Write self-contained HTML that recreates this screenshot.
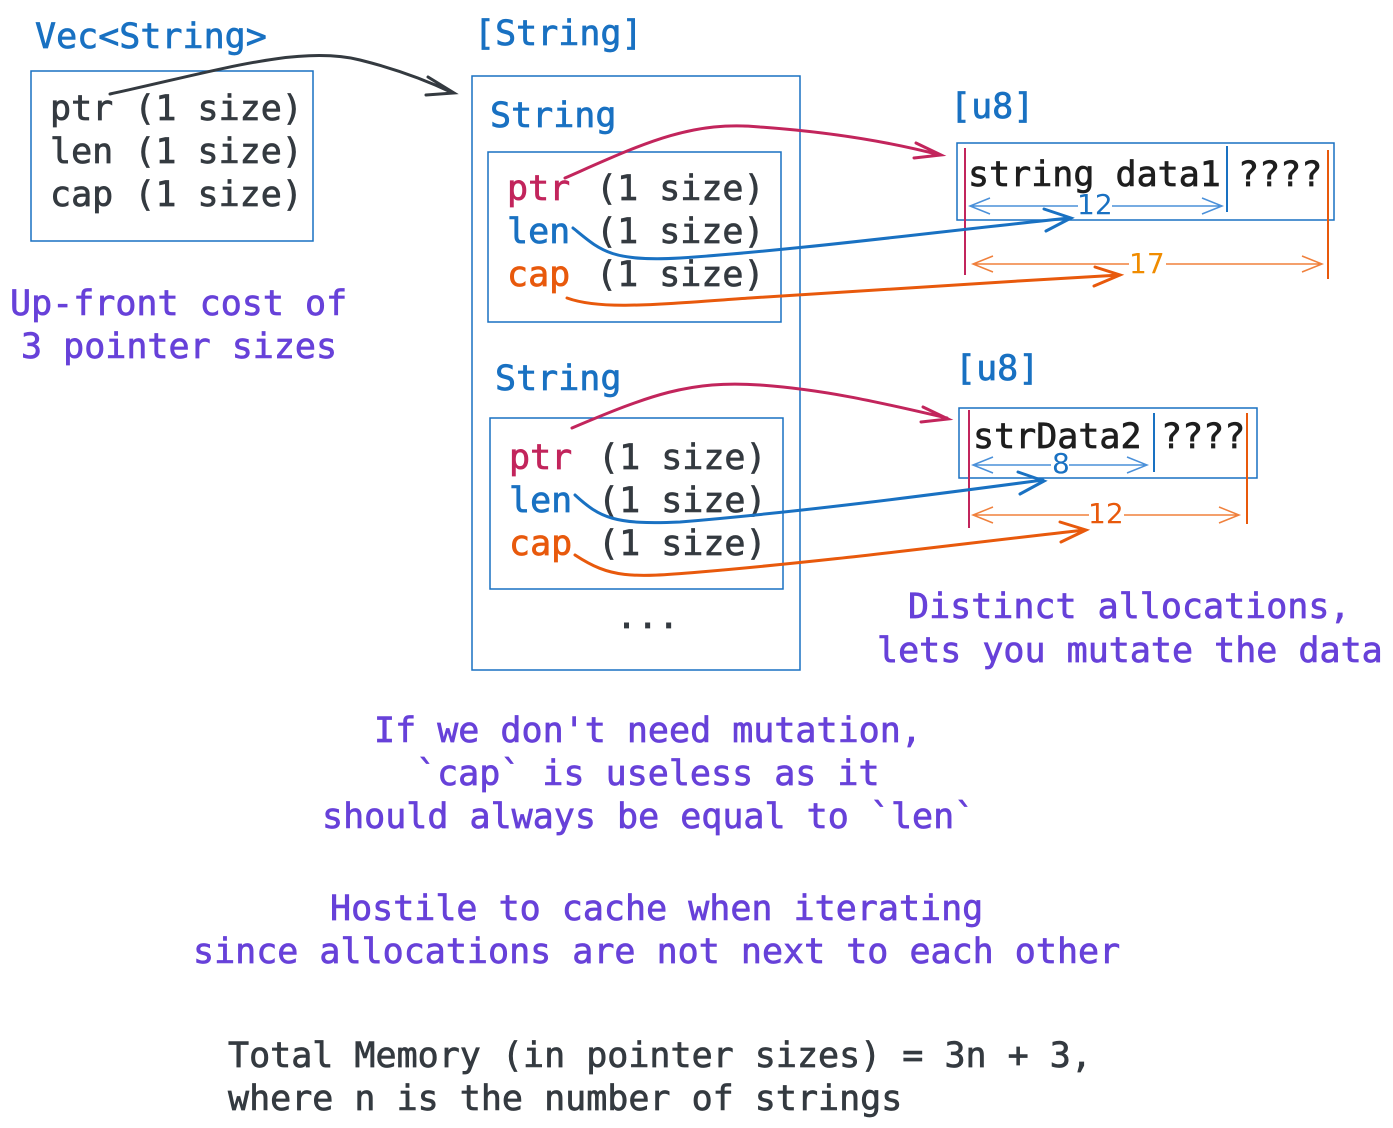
<!DOCTYPE html>
<html><head><meta charset="utf-8"><style>
html,body{margin:0;padding:0;background:#fff}
svg{display:block}
text{font-family:"DejaVu Sans Mono","Liberation Mono",monospace;font-size:35px;stroke-width:0.7px}
.d{fill:#343a40;stroke:#343a40}.b{fill:#1971c2;stroke:#1971c2}.p{fill:#6741d9;stroke:#6741d9}.r{fill:#c2255c;stroke:#c2255c}.o{fill:#e8590c;stroke:#e8590c}.k{fill:#1e1e1e;stroke:#1e1e1e}
</style></head><body>
<svg width="1393" height="1128" viewBox="0 0 1393 1128" xmlns="http://www.w3.org/2000/svg">
<g fill="none" stroke="#1971c2" stroke-width="1.5">
<rect x="31" y="71" width="282" height="170"/>
<rect x="472" y="76" width="328" height="594"/>
<rect x="488" y="152" width="293" height="170"/>
<rect x="490" y="418" width="293" height="171"/>
<rect x="957" y="143" width="377" height="77"/>
<rect x="959" y="408" width="298" height="70"/>
<line x1="1227" y1="146" x2="1227" y2="212" stroke-width="2"/>
<line x1="1154" y1="413" x2="1154" y2="472" stroke-width="2"/>
</g>
<text x="35" y="48" class="b">Vec&lt;String&gt;</text>
<text x="50" y="120" class="d">ptr (1 size)</text>
<text x="50" y="163" class="d">len (1 size)</text>
<text x="50" y="206" class="d">cap (1 size)</text>
<text x="474" y="45" class="b">[String]</text>
<text x="490" y="127" class="b">String</text>
<text x="507" y="200" class="r">ptr</text><text x="596" y="200" class="d">(1 size)</text>
<text x="507" y="243" class="b">len</text><text x="596" y="243" class="d">(1 size)</text>
<text x="507" y="286" class="o">cap</text><text x="596" y="286" class="d">(1 size)</text>
<text x="495" y="390" class="b">String</text>
<text x="509" y="469" class="r">ptr</text><text x="598" y="469" class="d">(1 size)</text>
<text x="509" y="512" class="b">len</text><text x="598" y="512" class="d">(1 size)</text>
<text x="509" y="555" class="o">cap</text><text x="598" y="555" class="d">(1 size)</text>
<text x="616" y="628" class="d">...</text>
<text x="950" y="118" class="b">[u8]</text>
<text x="968" y="186" class="k">string data1</text>
<text x="1238" y="186" class="k">????</text>
<text x="955" y="380" class="b">[u8]</text>
<text x="973" y="448" class="k">strData2</text>
<text x="1161" y="448" class="k">????</text>
<text x="10" y="315" class="p">Up-front cost of</text>
<text x="21" y="358" class="p">3 pointer sizes</text>
<text x="908" y="618" class="p">Distinct allocations,</text>
<text x="877" y="662" class="p">lets you mutate the data</text>
<text x="374" y="742" class="p">If we don't need mutation,</text>
<text x="416" y="785" class="p">`cap` is useless as it</text>
<text x="322" y="828" class="p">should always be equal to `len`</text>
<text x="330" y="920" class="p">Hostile to cache when iterating</text>
<text x="193" y="963" class="p">since allocations are not next to each other</text>
<text x="228" y="1067" class="d">Total Memory (in pointer sizes) = 3n + 3,</text>
<text x="228" y="1110" class="d">where n is the number of strings</text>
<g fill="none" stroke-width="2">
<line x1="965" y1="148" x2="965" y2="275" stroke="#c2255c"/>
<line x1="1328" y1="150" x2="1328" y2="279" stroke="#e8590c"/>
<line x1="969" y1="410" x2="969" y2="528" stroke="#c2255c"/>
<line x1="1247" y1="413" x2="1247" y2="524" stroke="#e8590c"/>
</g>
<g fill="none" stroke="#4a90d9" stroke-width="1.5">
<path d="M970 206H1078M1112 206H1222M990 198l-20 8 20 8M1202 198l20 8-20 8"/>
<path d="M973 465H1051M1069 465H1147M993 457l-20 8 20 8M1127 457l20 8-20 8"/>
</g>
<g fill="none" stroke="#f0803c" stroke-width="1.5">
<path d="M973 264H1129M1166 264H1322M993 256l-20 8 20 8M1302 256l20 8-20 8"/>
<path d="M973 515H1089M1124 515H1239M993 507l-20 8 20 8M1219 507l20 8-20 8"/>
</g>
<text x="1077" y="214" style="font-size:28px;font-family:'DejaVu Sans',sans-serif;stroke-width:0" class="b">12</text>
<text x="1052" y="473" style="font-size:28px;font-family:'DejaVu Sans',sans-serif;stroke-width:0" class="b">8</text>
<text x="1129" y="273" style="font-size:28px;font-family:'DejaVu Sans',sans-serif" fill="#f08c00">17</text>
<text x="1088" y="523" style="font-size:28px;font-family:'DejaVu Sans',sans-serif;stroke-width:0" class="o">12</text>
<g fill="none" stroke-width="3" stroke-linecap="round">
<path d="M110 94C220 70 300 45 360 60C400 70 430 82 453 93M428 77l26 16-28 2" stroke="#343a40"/>
<path d="M565 178C640 145 690 120 760 127C830 132 890 142 940 155M916 143l25 12-27 3" stroke="#c2255c"/>
<path d="M573 228C600 250 610 262 680 258C800 250 950 230 1070 218M1044 209l27 9-25 13" stroke="#1971c2"/>
<path d="M567 298C600 310 650 305 750 298C900 288 1000 282 1120 275M1095 267l25 8-26 11" stroke="#e8590c"/>
<path d="M572 428C650 395 690 380 760 385C830 390 890 405 947 418M923 407l25 12-27 3" stroke="#c2255c"/>
<path d="M575 495C600 518 615 525 680 522C800 512 930 495 1043 480M1018 472l26 9-24 13" stroke="#1971c2"/>
<path d="M575 555C610 578 630 578 700 572C840 560 950 545 1085 530M1060 522l26 8-25 12" stroke="#e8590c"/>
</g>
</svg>
</body></html>
